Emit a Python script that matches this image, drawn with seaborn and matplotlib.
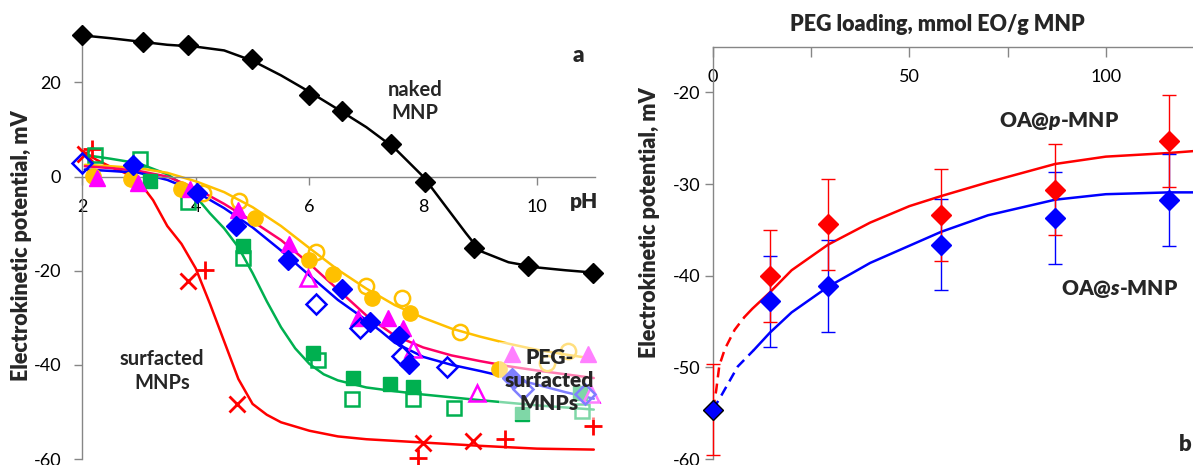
import matplotlib
matplotlib.use('Agg')
import matplotlib.pyplot as plt
import seaborn as sns

# ---------------- panel a: zeta potential vs pH ----------------
# naked MNP (black diamonds) and its fitted curve
ph_naked = [2.0, 3.07, 3.86, 4.99, 6.0, 6.57, 7.43, 8.03, 8.9, 9.84, 10.98]
zeta_naked = [30.0, 28.5, 27.9, 24.9, 17.4, 14.0, 7.0, -1.2, -15.1, -18.9, -20.4]
ph_naked_fit = [2.0, 2.5, 3.0, 3.5, 4.0, 4.5, 5.0, 5.5, 6.0, 6.5, 7.0, 7.5, 8.0,
                8.5, 8.75, 9.0, 9.5, 10.0, 10.5, 11.0]
zeta_naked_fit = [30.0, 29.4, 28.7, 28.0, 27.6, 26.8, 24.6, 21.5, 18.0, 14.3, 10.5,
                  6.0, 0.0, -8.0, -12.0, -15.8, -18.2, -19.3, -19.9, -20.4]

# surfacted MNPs (red)
ph_red_x = [2.05, 3.86, 4.72, 8.0, 8.87]
zeta_red_x = [4.8, -22.1, -48.3, -56.6, -56.2]
ph_red_plus = [2.17, 4.16, 7.9, 9.43, 10.98]
zeta_red_plus = [5.9, -19.8, -59.8, -55.7, -53.0]
ph_red_fit = [2.0, 2.25, 2.5, 2.75, 3.0, 3.25, 3.5, 3.75, 4.0, 4.25, 4.5, 4.75, 5.0,
              5.25, 5.5, 6.0, 6.5, 7.0, 8.0, 9.0, 10.0, 11.0]
zeta_red_fit = [5.5, 3.6, 2.1, 0.8, -1.0, -5.0, -10.5, -14.3, -19.5, -27.0, -35.0,
                -43.0, -48.3, -50.6, -52.2, -54.0, -55.2, -55.8, -56.5, -57.2, -57.8, -58.0]

# green squares
ph_green_fill = [3.2, 4.83, 6.06, 6.77, 7.41, 7.82, 9.73, 10.75]
zeta_green_fill = [-0.9, -14.7, -37.5, -42.7, -44.0, -44.7, -50.4, -46.0]
ph_green_open = [2.23, 3.02, 3.86, 4.83, 6.15, 6.75, 7.82, 8.54, 10.8]
zeta_green_open = [4.5, 3.8, -5.5, -17.2, -38.9, -47.3, -47.3, -49.1, -49.8]
ph_green_fit = [2.1, 2.5, 3.0, 3.5, 3.75, 4.0, 4.25, 4.5, 4.75, 5.0, 5.25, 5.5, 5.75,
                6.0, 6.25, 6.5, 7.0, 7.5, 8.0, 9.0, 10.0, 11.0]
zeta_green_fit = [4.5, 3.8, 2.8, 0.5, -1.5, -4.2, -7.8, -11.0, -15.0, -20.5, -26.5,
                  -32.0, -36.5, -39.8, -42.0, -43.3, -44.8, -45.6, -46.3, -47.5, -48.6, -49.5]

# blue diamonds
ph_blue_fill = [2.9, 4.02, 4.7, 5.63, 6.57, 7.06, 7.57, 7.75, 9.57]
zeta_blue_fill = [2.5, -3.4, -10.4, -17.7, -23.8, -31.0, -33.8, -39.8, -42.8]
ph_blue_open = [2.0, 6.11, 6.89, 7.62, 8.41, 9.76, 10.84]
zeta_blue_open = [2.8, -27.0, -32.1, -38.1, -40.4, -45.1, -46.2]
ph_blue_fit = [2.05, 2.5, 3.0, 3.5, 4.0, 4.5, 5.0, 5.5, 6.0, 6.5, 7.0, 7.25, 7.5, 8.0,
               8.5, 9.0, 9.5, 10.0, 10.5, 11.0]
zeta_blue_fit = [1.5, 1.2, 0.8, -0.7, -3.2, -6.7, -10.8, -15.7, -21.0, -26.2, -30.5,
                 -32.8, -35.3, -38.3, -40.0, -41.3, -42.7, -44.2, -45.8, -47.2]

# magenta triangles, pink curve
ph_mag_fill = [2.26, 2.98, 3.9, 4.74, 5.64, 6.85, 7.38, 7.64, 9.56, 10.9]
zeta_mag_fill = [-0.2, -1.3, -2.6, -7.2, -14.3, -30.0, -30.0, -32.1, -37.7, -37.7]
ph_mag_open = [5.98, 7.82, 8.94, 10.95]
zeta_mag_open = [-21.5, -36.6, -46.0, -46.2]
ph_pink_fit = [2.05, 2.5, 3.0, 3.5, 4.0, 4.5, 5.0, 5.5, 6.0, 6.5, 7.0, 7.5, 8.0, 8.5,
               9.0, 9.5, 10.0, 10.5, 11.0]
zeta_pink_fit = [2.2, 1.8, 1.2, 0.0, -2.5, -5.8, -9.5, -13.5, -18.5, -24.0, -29.5,
                 -33.8, -36.3, -38.0, -39.2, -40.3, -41.2, -42.0, -42.8]

# gold circles
ph_gold_fill = [2.2, 2.87, 3.75, 5.05, 6.0, 6.41, 7.1, 7.76, 9.33]
zeta_gold_fill = [0.2, -0.5, -2.6, -8.9, -17.7, -20.7, -25.8, -29.0, -40.9]
ph_gold_open = [4.13, 4.77, 6.11, 7.0, 7.62, 8.64, 10.17, 10.55]
zeta_gold_open = [-3.4, -5.1, -16.0, -23.2, -25.7, -33.0, -39.6, -37.1]
ph_gold_fit = [2.05, 2.5, 3.0, 3.5, 4.0, 4.5, 5.0, 5.5, 6.0, 6.5, 7.0, 7.5, 8.0, 8.5,
               9.0, 9.5, 10.0, 10.5, 11.0]
zeta_gold_fit = [2.5, 2.2, 1.8, 0.8, -1.0, -3.3, -6.5, -10.5, -15.2, -19.8, -23.8,
                 -27.3, -30.0, -32.3, -34.0, -35.5, -36.8, -37.8, -38.7]

# ---------------- panel b: zeta potential vs PEG loading ----------------
peg = [0, 14.5, 29.3, 58.1, 87.1, 116.2]
zeta_p = [-54.6, -40.0, -34.4, -33.4, -30.6, -25.3]
err_p = [5.0, 5.0, 5.0, 5.0, 5.0, 5.0]
zeta_s = [-54.6, -42.8, -41.1, -36.6, -33.7, -31.7]
err_s = [0.0, 5.0, 5.0, 5.0, 5.0, 5.0]

peg_p_dash = [0, 0.8, 1.6, 3.0, 5.5, 8.0]
zeta_p_dash = [-54.6, -52.5, -49.8, -48.0, -45.9, -44.5]
peg_p_fit = [8.0, 10.0, 14.5, 20.0, 29.3, 40.0, 50.0, 58.1, 70.0, 87.1, 100.0, 116.2, 122.2]
zeta_p_fit = [-44.5, -43.6, -41.8, -39.4, -36.6, -34.2, -32.4, -31.3, -29.8, -27.8,
              -27.0, -26.6, -26.4]
peg_s_dash = [0, 2.2, 6.3, 10.4]
zeta_s_dash = [-54.6, -53.0, -49.9, -48.1]
peg_s_fit = [10.4, 14.5, 20.0, 29.3, 40.0, 58.1, 70.0, 87.1, 100.0, 116.2, 122.2]
zeta_s_fit = [-48.1, -46.2, -44.0, -41.2, -38.6, -35.2, -33.4, -31.7, -31.1, -30.9, -30.9]

RED = '#FF0000'
GREEN = '#00B050'
BLUE = '#0000FF'
MAGENTA = '#FF00FF'
PINK = '#FF0066'
GOLD = '#FFC000'
GREY = '#868686'

sns.set_theme(style='white')
plt.rcParams['font.family'] = ['Lato', 'DejaVu Sans']
plt.rcParams['axes.unicode_minus'] = False
plt.rcParams['mathtext.fontset'] = 'custom'
plt.rcParams['mathtext.it'] = 'Lato:italic:heavy'
plt.rcParams['mathtext.rm'] = 'Lato:heavy'

fig = plt.figure(figsize=(11.93, 4.65), dpi=100)

# ---------- panel a ----------
ax = fig.add_axes([0.0687, 0.0129, 0.4300, 0.9161])
ax.set_xlim(2, 11.02)
ax.set_ylim(-60, 30.5)

fits = [(ph_naked_fit, zeta_naked_fit, 'black'),
        (ph_red_fit, zeta_red_fit, RED),
        (ph_green_fit, zeta_green_fit, GREEN),
        (ph_gold_fit, zeta_gold_fit, GOLD),
        (ph_pink_fit, zeta_pink_fit, PINK),
        (ph_blue_fit, zeta_blue_fit, BLUE)]
for xs, ys, c in fits:
    sns.lineplot(x=xs, y=ys, color=c, lw=1.8, ax=ax, zorder=2)

mk = dict(ls='none', clip_on=False, zorder=3)
ax.plot(ph_naked, zeta_naked, marker='D', ms=10.5, color='black', **mk)
ax.plot(ph_red_x, zeta_red_x, marker='x', ms=11, mew=2, color=RED, **mk)
ax.plot(ph_red_plus, zeta_red_plus, marker='+', ms=13, mew=2, color=RED, **mk)
ax.plot(ph_green_fill, zeta_green_fill, marker='s', ms=10, color=GREEN, **mk)
ax.plot(ph_green_open, zeta_green_open, marker='s', ms=10, mfc='none', mec=GREEN, mew=1.8, **mk)
ax.plot(ph_gold_fill, zeta_gold_fill, marker='o', ms=11, color=GOLD, **mk)
ax.plot(ph_gold_open, zeta_gold_open, marker='o', ms=11, mfc='none', mec=GOLD, mew=1.8, **mk)
ax.plot(ph_mag_fill, zeta_mag_fill, marker='^', ms=11, color=MAGENTA, **mk)
ax.plot(ph_mag_open, zeta_mag_open, marker='^', ms=11, mfc='none', mec=MAGENTA, mew=1.8, **mk)
ax.plot(ph_blue_fill, zeta_blue_fill, marker='D', ms=10, color=BLUE, **mk)
ax.plot(ph_blue_open, zeta_blue_open, marker='D', ms=10, mfc='none', mec=BLUE, mew=1.8, **mk)

for s in ['top', 'right']:
    ax.spines[s].set_visible(False)
ax.spines['bottom'].set_position(('data', 0))
for s in ['left', 'bottom']:
    ax.spines[s].set_color(GREY)
    ax.spines[s].set_linewidth(1)
ax.set_xticks([2, 4, 6, 8, 10])
ax.set_yticks([-60, -40, -20, 0, 20])
ax.tick_params(axis='both', direction='out', length=6, width=1, color=GREY,
               labelsize=13, labelcolor='black')
ax.tick_params(axis='x', pad=10, bottom=True)
ax.tick_params(axis='y', pad=9, left=True)
ax.grid(False)

ax.text(10.82, -5.2, 'pH', fontsize=15, fontweight='heavy', ha='center', va='center')
ax.text(10.73, 25.7, 'a', fontsize=16, fontweight='heavy', ha='center', va='center')
ax.text(7.85, 16.0, 'naked\nMNP', fontsize=14.5, fontweight='bold', ha='center',
        va='center', linespacing=1.2)
ax.text(3.41, -41.3, 'surfacted\nMNPs', fontsize=14.5, fontweight='bold', ha='center',
        va='center', linespacing=1.2)
ax.text(10.22, -43.4, 'PEG-\nsurfacted\nMNPs', fontsize=15, fontweight='heavy',
        ha='center', va='center', linespacing=1.25, zorder=5,
        bbox=dict(boxstyle='square,pad=0.3', fc='white', ec='none', alpha=0.5))
fig.text(22 / 1193, 1 - 246 / 465, 'Electrokinetic potential, mV', rotation=90,
         fontsize=15.5, fontweight='heavy', ha='center', va='center')

# ---------- panel b ----------
bx = fig.add_axes([0.5977, 0.0129, 0.4023, 0.8867])
bx.set_xlim(0, 122.2)
bx.set_ylim(-60, -15)

sns.lineplot(x=peg_p_fit, y=zeta_p_fit, color=RED, lw=1.8, ax=bx)
sns.lineplot(x=peg_p_dash, y=zeta_p_dash, color=RED, lw=1.8, ax=bx, linestyle=(0, (4, 2.5)))
sns.lineplot(x=peg_s_fit, y=zeta_s_fit, color=BLUE, lw=1.8, ax=bx)
sns.lineplot(x=peg_s_dash, y=zeta_s_dash, color=BLUE, lw=1.8, ax=bx, linestyle=(0, (4, 2.5)))

bx.errorbar(peg[1:], zeta_s[1:], yerr=err_s[1:], fmt='none', ecolor=BLUE, elinewidth=1,
            capsize=5, capthick=1, clip_on=False, zorder=3)
bx.errorbar(peg, zeta_p, yerr=err_p, fmt='none', ecolor=RED, elinewidth=1,
            capsize=5, capthick=1, clip_on=False, zorder=3)
bx.plot(peg[1:], zeta_p[1:], marker='D', ms=10, color=RED, ls='none', zorder=4)
bx.plot(peg[1:], zeta_s[1:], marker='D', ms=10, color=BLUE, ls='none', zorder=4)
bx.plot(peg[:1], zeta_s[:1], marker='D', ms=10, mfc=BLUE, mec='black', mew=1,
        ls='none', clip_on=False, zorder=5)

for s in ['top', 'right']:
    bx.spines[s].set_visible(False)
# x axis line drawn at the top, ticks pointing down, labels underneath
bx.spines['bottom'].set_position(('axes', 1.0))
for s in ['left', 'bottom']:
    bx.spines[s].set_color(GREY)
    bx.spines[s].set_linewidth(1)
bx.set_xticks([0, 25, 50, 75, 100])
bx.set_xticklabels(['0', '', '50', '', '100'])
bx.set_yticks([-60, -50, -40, -30, -20])
bx.tick_params(axis='both', direction='out', width=1, color=GREY,
               labelsize=13, labelcolor='black')
bx.tick_params(axis='x', length=7, pad=9, bottom=True)
bx.tick_params(axis='y', length=6, pad=3, left=True)
bx.grid(False)

bx.text(57, -12.6, 'PEG loading, mmol EO/g MNP', fontsize=15.5, fontweight='heavy',
        ha='center', va='center', clip_on=False)
bx.text(88.2, -23.1, r'OA@$\mathit{p}$-MNP', fontsize=15, fontweight='heavy',
        ha='center', va='center')
bx.text(103.4, -41.5, r'OA@$\mathit{s}$-MNP', fontsize=15, fontweight='heavy',
        ha='center', va='center')
bx.text(120.2, -58.4, 'b', fontsize=16, fontweight='heavy', ha='center', va='center')
fig.text(650 / 1193, 1 - 223 / 465, 'Electrokinetic potential, mV', rotation=90,
         fontsize=15.5, fontweight='heavy', ha='center', va='center')

fig.savefig('out.png', dpi=100)
